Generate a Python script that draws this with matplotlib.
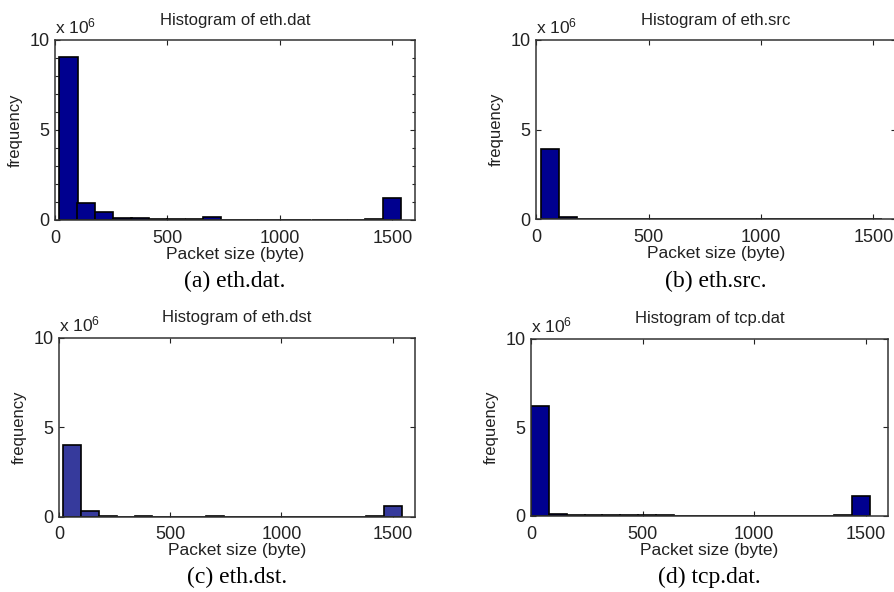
import matplotlib
matplotlib.use("Agg")
import matplotlib.pyplot as plt
import numpy as np
from matplotlib.ticker import MultipleLocator

plt.rcParams['font.family'] = ['Liberation Sans', 'DejaVu Sans']
plt.rcParams['mathtext.fontset'] = 'custom'
plt.rcParams['mathtext.rm'] = 'Liberation Sans'
plt.rcParams['mathtext.default'] = 'regular'

# bin edges (bytes)
edges_eth = [20, 100, 180, 260, 340, 420, 500, 580, 660, 740, 820, 900, 980,
             1060, 1140, 1220, 1300, 1380, 1460, 1540]
edges_tcp = [0, 80, 160, 240, 320, 400, 480, 560, 640, 720, 800, 880, 960,
             1040, 1120, 1200, 1280, 1360, 1440, 1520]

# counts per bin, in units of 10^6
counts_eth_dat = [9.05, 0.92, 0.42, 0.13, 0.13, 0.06, 0.06, 0.06, 0.15, 0, 0, 0,
                  0, 0, 0, 0, 0, 0.05, 1.22]
counts_eth_src = [3.95, 0.12, 0, 0, 0, 0.04, 0, 0, 0, 0, 0, 0,
                  0, 0, 0, 0, 0, 0, 0.04]
counts_eth_dst = [4.0, 0.3, 0.04, 0, 0.04, 0, 0, 0, 0.04, 0, 0, 0,
                  0, 0, 0, 0, 0, 0.03, 0.57]
counts_tcp_dat = [6.2, 0.1, 0.04, 0.04, 0.04, 0.04, 0.04, 0.04, 0, 0, 0, 0,
                  0, 0, 0, 0, 0, 0.03, 1.12]

titles = ['Histogram of eth.dat', 'Histogram of eth.src',
          'Histogram of eth.dst', 'Histogram of tcp.dat']
captions = ['(a) eth.dat.', '(b) eth.src.', '(c) eth.dst.', '(d) tcp.dat.']

W, H = 895, 592
fig = plt.figure(figsize=(W / 100, H / 100), dpi=100)

# axes boxes in pixels: left, top, right, bottom
boxes = [(55, 40, 415, 220), (536, 40, 896, 219.5),
         (59, 337.7, 415, 516.7), (531, 338.7, 888, 516)]
panels = [(edges_eth, counts_eth_dat, '#00008f'),
          (edges_eth, counts_eth_src, '#00008f'),
          (edges_eth, counts_eth_dst, '#363a9c'),
          (edges_tcp, counts_tcp_dat, '#00008f')]
caption_y = [281, 281, 577, 577]
text_col = '#222222'

for i, ((l, t, r, b), (edges, counts, col)) in enumerate(zip(boxes, panels)):
    ax = fig.add_axes([l / W, 1 - b / H, (r - l) / W, (b - t) / H])
    edges = np.array(edges)
    ax.bar(edges[:-1], counts, width=np.diff(edges), align='edge',
           color=col, edgecolor='black', linewidth=1.2, zorder=2)
    ax.set_xlim(0, 1600)
    ax.set_ylim(0, 10)
    ax.set_xticks([0, 500, 1000, 1500])
    ax.set_yticks([0, 5, 10])
    if i == 0:
        ax.yaxis.set_minor_locator(MultipleLocator(1))
    ax.tick_params(which='both', direction='in', top=True, right=True,
                   labelsize=13, colors=text_col, width=0.8)
    ax.tick_params(which='major', length=3.5)
    ax.tick_params(axis='x', which='major', pad=7)
    ax.tick_params(axis='y', which='major', pad=4)
    ax.tick_params(which='minor', length=2)
    for s in ax.spines.values():
        s.set_color('#333333')
        s.set_linewidth(1.1)
    ax.set_title(titles[i], fontsize=12, color=text_col, pad=11)
    ax.set_xlabel('Packet size (byte)', fontsize=12.5, color=text_col, labelpad=0)
    ax.set_ylabel('frequency', fontsize=12, color=text_col, labelpad=5)
    ax.text(0.0, 1.02, 'x 10$^{6}$', transform=ax.transAxes, fontsize=12.5,
            color=text_col, ha='left', va='bottom')
    fig.text((l + r) / 2 / W, 1 - caption_y[i] / H, captions[i],
             family='Liberation Serif', fontsize=17, ha='center', va='center',
             color='black')

fig.savefig('out.png', dpi=100)
